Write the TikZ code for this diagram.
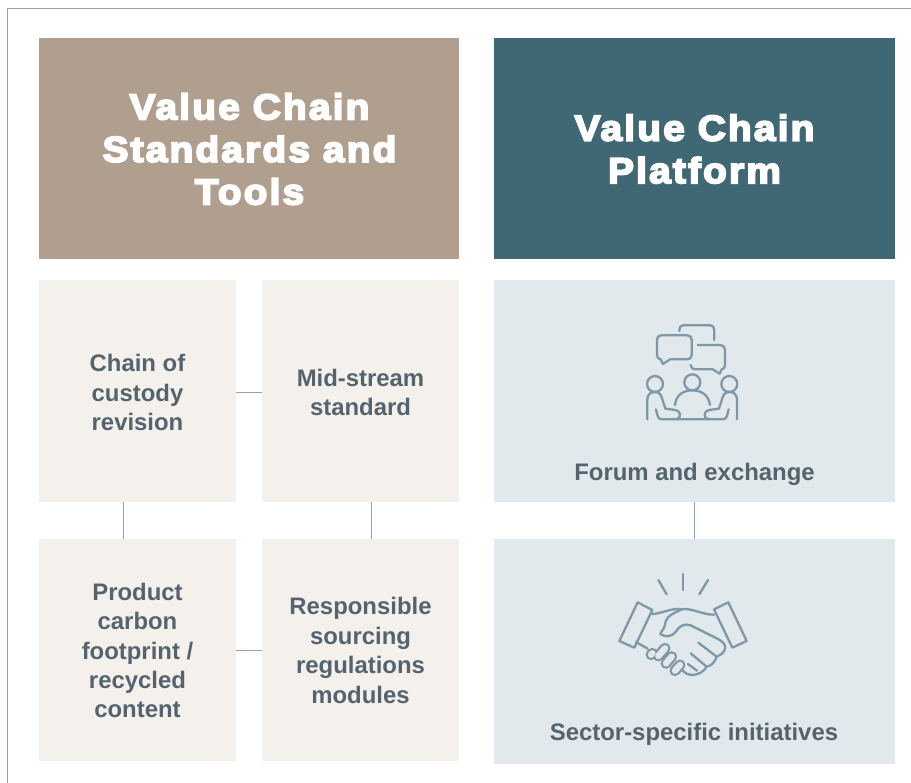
\documentclass[tikz,border=0pt]{standalone}
\usepackage{fontspec}
\setmainfont{Liberation Sans}
\newfontfamily\headfont[FakeBold=5,FakeStretch=1.08,LetterSpace=6]{Liberation Sans Bold}
\usetikzlibrary{calc}
\definecolor{tan}{HTML}{B09F8F}
\definecolor{teal}{HTML}{406874}
\definecolor{paleA}{HTML}{F4F1EC}
\definecolor{paleB}{HTML}{E1E9EC}
\definecolor{bodytext}{HTML}{55636F}
\definecolor{iconline}{HTML}{7F98A8}
\definecolor{linkline}{HTML}{8FA3B0}
\definecolor{frameline}{HTML}{8F9FAB}
\tikzset{
  box/.style={inner sep=0pt,outer sep=0pt,anchor=north west,align=center},
  headtext/.style={text=white,font=\headfont\fontsize{36bp}{42.5bp}\selectfont},
  bodylabel/.style={text=bodytext,font=\bfseries\fontsize{23.9bp}{29.4bp}\selectfont,align=center,inner sep=0pt},
  link/.style={draw=linkline,line width=0.9bp},
  icon/.style={draw=iconline,line width=2.3bp,line cap=round,line join=round,fill=none},
  fingerout/.style={draw=iconline,line width=11bp,line cap=round},
  fingerin/.style={draw=paleB,line width=6.4bp,line cap=round},
}
\begin{document}
\begin{tikzpicture}[x=1bp,y=-1bp]
\useasboundingbox (0,0) rectangle (911,783);
\fill[white] (0,0) rectangle (911,783);
\coordinate (frameTR) at (911,9);
\coordinate (frameTL) at (7.6,9);
\coordinate (frameBL) at (7.6,783);
\draw[frameline,line width=1bp] (frameBL) -- (frameTL) -- (frameTR);

\node[box,fill=tan,minimum width=420bp,minimum height=221bp] (hl) at (39,38) {};
\node[box,fill=teal,minimum width=401bp,minimum height=221bp] (hr) at (494,38) {};
\node[headtext,align=center,inner sep=0pt] (hltext) at (249.5,149) {Value Chain\\Standards and\\Tools};
\node[headtext,align=center,inner sep=0pt] (hrtext) at (694.5,149) {Value Chain\\Platform};

\node[box,fill=paleA,minimum width=197bp,minimum height=222bp] (c1) at (39,280) {};
\node[box,fill=paleA,minimum width=197bp,minimum height=222bp] (c2) at (262,280) {};
\node[box,fill=paleA,minimum width=197bp,minimum height=222bp] (c3) at (39,539) {};
\node[box,fill=paleA,minimum width=197bp,minimum height=222bp] (c4) at (262,539) {};
\node[box,fill=paleB,minimum width=401bp,minimum height=222bp] (f) at (494,280) {};
\node[box,fill=paleB,minimum width=401bp,minimum height=225bp] (s) at (494,539) {};

\node[bodylabel] (t1) at (137.5,392.5) {Chain of\\custody\\revision};
\node[bodylabel] (t2) at (360.5,392.5) {Mid-stream\\standard};
\node[bodylabel] (t3) at (137.5,650.5) {Product\\carbon\\footprint /\\recycled\\content};
\node[bodylabel] (t4) at (360.5,650.5) {Responsible\\sourcing\\regulations\\modules};
\node[bodylabel] (t5) at (694.5,474) {Forum and exchange};
\node[bodylabel] (t6) at (694,734) {Sector-specific initiatives};

\draw[link] (c1.east |- 0,392) -- (c2.west |- 0,392);
\draw[link] (c3.east |- 0,650) -- (c4.west |- 0,650);
\draw[link] ($(c1.south west)+(84,0)$) -- ($(c3.north west)+(84,0)$);
\draw[link] ($(c2.south west)+(109,0)$) -- ($(c4.north west)+(109,0)$);
\draw[link] (f.south) -- (s.north);

% meeting icon
\begin{scope}[shift={(620,310)},x=0.3333bp,y=-0.3333bp]
\draw[icon] (178,63) .. controls (178,52) and (182,46) .. (192,46) -- (268,46) .. controls (278,46) and (283,51) .. (283,60) -- (283,90);
\draw[icon] (124,76) -- (202,76) .. controls (210,76) and (215,81) .. (215,89) -- (215,135) .. controls (215,143) and (210,148) .. (202,148) -- (150,148) -- (129,162) -- (122,148) .. controls (116,148) and (111,143) .. (111,135) -- (111,89) .. controls (111,81) and (116,76) .. (124,76) -- cycle;
\draw[icon] (233,105) -- (300,105) .. controls (309,105) and (315,110) .. (315,119) -- (315,165) .. controls (315,173) and (311,178) .. (305,178) -- (299,191) -- (278,178) -- (228,178) .. controls (218,178) and (212,173) .. (212,165);
\draw[icon] (105,222) circle[radius=8bp];
\draw[icon] (217,217) circle[radius=8bp];
\draw[icon] (328,222) circle[radius=8bp];
\draw[icon] (82,328) -- (82,268) .. controls (82,254) and (92,246) .. (104,246) .. controls (116,246) and (122,252) .. (125,262) -- (136,296) -- (166,300) .. controls (182,302) and (186,322) .. (170,328);
\draw[icon] (351,328) -- (351,268) .. controls (351,254) and (341,246) .. (329,246) .. controls (317,246) and (311,252) .. (308,262) -- (297,296) -- (268,300) .. controls (252,302) and (248,322) .. (264,328);
\draw[icon] (108,298) -- (113,318) .. controls (115,325) and (119,328) .. (126,328) -- (308,328) .. controls (315,328) and (319,325) .. (321,318) -- (326,298);
\draw[icon] (165,285) .. controls (168,255) and (190,241) .. (217,241) .. controls (244,241) and (266,255) .. (270,285);
\end{scope}

% handshake icon
\begin{scope}[shift={(600,560)},x=0.3333bp,y=-0.3333bp]
\draw[icon] (175,60) -- (200,103);
\draw[icon] (249,42) -- (249,90);
\draw[icon] (324,60) -- (298,103);
\draw[icon] (113,127) -- (157,150) -- (103,263) -- (58,243) -- cycle;
\draw[icon] (385,127) -- (342,148) -- (397,263) -- (440,243) -- cycle;
\draw[icon] (155,162) .. controls (185,162) and (215,142) .. (245,148) .. controls (270,142) and (310,165) .. (342,164);
\draw[icon] (245,148) .. controls (225,158) and (200,168) .. (197,185) .. controls (195,205) and (185,212) .. (181,222) .. controls (195,232) and (215,232) .. (228,214) .. controls (240,196) and (255,190) .. (272,196) -- (350,235) .. controls (370,245) and (380,255) .. (374,270) .. controls (368,282) and (358,287) .. (350,290) .. controls (345,305) and (335,318) .. (320,320) .. controls (312,335) and (295,345) .. (275,345) .. controls (265,345) and (255,340) .. (248,332);
\draw[icon] (295,248) -- (350,290);
\draw[icon] (272,280) -- (320,320);
\draw[icon] (264,312) -- (291,332);
\draw[icon] (108,246) -- (143,266);
\end{scope}
\begin{scope}[shift={(630,620)},x=0.3333bp,y=-0.3333bp]
\coordinate (f1a) at (63,104); \coordinate (f1b) at (67,100);
\coordinate (f2a) at (85,108); \coordinate (f2b) at (105,85);
\coordinate (f3a) at (108,130); \coordinate (f3b) at (125,110);
\coordinate (f4a) at (135,152); \coordinate (f4b) at (150,135);
\foreach \a/\b in {f1a/f1b,f2a/f2b,f3a/f3b,f4a/f4b}{\draw[fingerout] (\a) -- (\b);}
\foreach \a/\b in {f1a/f1b,f2a/f2b,f3a/f3b,f4a/f4b}{\draw[fingerin] (\a) -- (\b);}
\end{scope}
\end{tikzpicture}
\end{document}
